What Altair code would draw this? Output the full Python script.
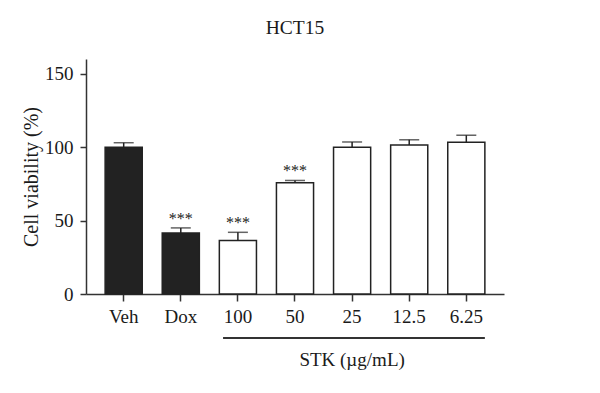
import altair as alt
import pandas as pd

groups = ["Veh", "Dox", "100", "50", "25", "12.5", "6.25"]
means = [100, 41.5, 36.5, 75.8, 100, 101.5, 103.3]
errors = [3, 3.5, 5.5, 1.5, 3.5, 3.5, 4.8]
stars = ["", "***", "***", "***", "", "", ""]
kinds = ["control", "control", "stk", "stk", "stk", "stk", "stk"]
stk_span = ["100", "6.25"]
stk_label = "STK (µg/mL)"
title_text = "HCT15"

FONT = "Liberation Serif"

df = pd.DataFrame({"group": groups, "mean": means, "err": errors,
                   "star": stars, "kind": kinds})
df["top"] = df["mean"] + df["err"]

xscale = alt.Scale(domain=groups, paddingInner=0.35, paddingOuter=0.335)

xs = alt.X("group:N", scale=xscale,
           axis=alt.Axis(title=None, labelAngle=0, labelFont=FONT, labelFontSize=19,
                         labelColor="#1a1a1a", tickSize=7, tickColor="#333", tickWidth=1.5,
                         domainColor="#333", domainWidth=1.5, labelPadding=6))

ys = alt.Y("mean:Q", scale=alt.Scale(domain=[0, 150]),
           axis=alt.Axis(title="Cell viability (%)", values=[0, 50, 100, 150], grid=False,
                         labelFont=FONT, labelFontSize=19, labelColor="#1a1a1a",
                         titleFont=FONT, titleFontSize=20, titleFontWeight="normal",
                         titleColor="#1a1a1a", titlePadding=3,
                         tickSize=6, tickColor="#333", tickWidth=1.5,
                         domainColor="#333", domainWidth=1.5, labelPadding=7))

base = alt.Chart(df)

bars = base.mark_bar(stroke="#222", strokeWidth=1.5).encode(
    x=xs, y=ys,
    fill=alt.Fill("kind:N", scale=alt.Scale(domain=["control", "stk"], range=["#222222", "#ffffff"]), legend=None),
)

err_rule = base.mark_rule(color="#222", strokeWidth=1.5).encode(
    x=alt.X("group:N", scale=xscale), y="mean:Q", y2="top:Q")

err_cap = base.mark_tick(color="#222", thickness=1.5, size=20, orient="horizontal").encode(
    x=alt.X("group:N", scale=xscale), y="top:Q")

star_text = base.mark_text(font=FONT, fontSize=16, baseline="bottom", dy=-1, color="#222").encode(
    x=alt.X("group:N", scale=xscale), y="top:Q", text="star:N")

span_df = pd.DataFrame({"group": [stk_span[0]], "b": [stk_span[1]], "mid": ["25"], "label": [stk_label]})

stk_line = alt.Chart(span_df).mark_rule(color="#333", strokeWidth=2).encode(
    x=alt.X("group:N", scale=xscale, bandPosition=0.1),
    x2=alt.X2("b:N", bandPosition=1.0),
    y=alt.value(279))

stk_text = alt.Chart(span_df).mark_text(font=FONT, fontSize=19, baseline="middle", color="#1a1a1a").encode(
    x=alt.X("mid:N", scale=xscale), y=alt.value(301), text="label:N")

chart = alt.layer(bars, err_rule, err_cap, star_text, stk_line, stk_text).properties(
    width=418, height=235,
    title=alt.TitleParams(title_text, font=FONT, fontSize=19.5, fontWeight="normal",
                          color="#1a1a1a", anchor="middle", offset=21),
    autosize=alt.AutoSizeParams(type="none"),
    padding={"left": 86, "top": 59, "right": 96, "bottom": 99},
).configure(background="white", view=alt.ViewConfig(stroke=None))

chart.save("out.html", embed_options={"renderer": "svg", "actions": False})
